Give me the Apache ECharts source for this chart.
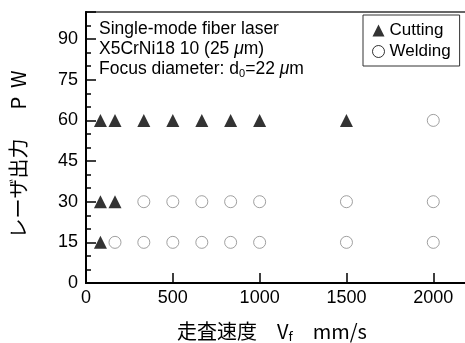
<!DOCTYPE html>
<html>
<head>
<meta charset="utf-8">
<script src="https://cdn.jsdelivr.net/npm/echarts@6/dist/echarts.min.js"></script>
<style>
  html, body { margin: 0; padding: 0; background: #fff; }
  #chart { width: 465px; height: 343px; }
</style>
</head>
<body>
<div id="chart"></div>
<script>
// Scan speeds (mm/s) at which each laser power level was tested
const cutting15 = [83];
const cutting30 = [83, 167];
const cutting60 = [83, 167, 333, 500, 667, 833, 1000, 1500];
const welding15 = [167, 333, 500, 667, 833, 1000, 1500, 2000];
const welding30 = [333, 500, 667, 833, 1000, 1500, 2000];
const welding60 = [2000];

const xTicks = [0, 500, 1000, 1500, 2000];
const yTicks = [0, 15, 30, 45, 60, 75, 90];

function pairs(speeds, power) {
  return speeds.map(v => [v, power]);
}

const cuttingData = [].concat(pairs(cutting15, 15), pairs(cutting30, 30), pairs(cutting60, 60));
const weldingData = [].concat(pairs(welding15, 15), pairs(welding30, 30), pairs(welding60, 60));

const latin = '"Liberation Sans", Arial, sans-serif';
const cjk = '"Noto Sans CJK JP", sans-serif';

const chart = echarts.init(document.getElementById('chart'), null, { renderer: 'canvas' });

chart.setOption({
  animation: false,
  backgroundColor: '#fff',
  grid: {
    left: 86, top: 12, width: 382, bottom: 60,
    outerBoundsMode: 'none',
    containLabel: false,
    show: true, borderColor: '#666', borderWidth: 2, backgroundColor: 'transparent'
  },
  legend: {
    orient: 'vertical',
    left: 363, top: 15,
    padding: [7, 9, 6, 9],
    itemGap: 4,
    itemWidth: 12, itemHeight: 12,
    borderColor: '#333', borderWidth: 1,
    textStyle: { fontFamily: latin, fontSize: 17, color: '#000' },
    data: [
      { name: 'Cutting', icon: 'triangle', itemStyle: { color: '#000' } },
      { name: 'Welding', icon: 'circle', itemStyle: { color: '#fff', borderColor: '#000', borderWidth: 1 } }
    ]
  },
  xAxis: {
    type: 'value', min: 0, max: 2200, interval: 500,
    splitLine: { show: false },
    axisLine: { lineStyle: { color: '#000', width: 2 } },
    axisTick: { inside: true, length: 10, lineStyle: { color: '#000', width: 1.5 } },
    axisLabel: {
      fontFamily: latin, fontSize: 18, color: '#000', margin: 6,
      formatter: v => (xTicks.indexOf(v) >= 0 ? String(v) : '')
    },
    name: '{t|走査速度　V}{s|f}{t|　mm/s}',
    nameLocation: 'middle', nameGap: 37,
    nameTextStyle: {
      padding: [0, 10, 0, 0],
      rich: {
        t: { fontFamily: cjk, fontSize: 20, color: '#000' },
        s: { fontFamily: cjk, fontSize: 13, color: '#000', padding: [10, 0, 0, 0] }
      }
    }
  },
  yAxis: [
    {
      type: 'value', min: 0, max: 100, interval: 15,
      splitLine: { show: false },
      axisLine: { lineStyle: { color: '#000', width: 2 } },
      axisTick: { inside: true, length: 10, lineStyle: { color: '#000', width: 1.5 } },
      axisLabel: {
        fontFamily: latin, fontSize: 18, color: '#000', margin: 8,
        formatter: v => (yTicks.indexOf(v) >= 0 ? String(v) : '')
      },
      name: 'レーザ出力　  P  W',
      nameLocation: 'middle', nameRotate: 90, nameGap: 58,
      nameTextStyle: { fontFamily: cjk, fontSize: 20, color: '#000', padding: [0, 14, 0, 0] }
    },
    {
      type: 'value', min: 0, max: 100, interval: 5, position: 'left',
      splitLine: { show: false },
      axisLine: { show: false },
      axisTick: { inside: true, length: 5, lineStyle: { color: '#000', width: 1.5 } },
      axisLabel: { show: false }
    }
  ],
  graphic: [{
    type: 'text',
    left: 99, top: 19,
    style: {
      text: 'Single-mode fiber laser\nX5CrNi18 10 (25 {mu|μ}m)\nFocus diameter: d{sub|0}=22 {mu|μ}m',
      font: '17.5px ' + latin,
      fill: '#000',
      lineHeight: 20,
      rich: {
        mu: { fontFamily: latin, fontSize: 17.5, fontStyle: 'italic', fill: '#000', lineHeight: 20 },
        sub: { fontFamily: latin, fontSize: 11, fill: '#000', lineHeight: 20, padding: [9, 0, 0, 0] }
      }
    }
  }],
  series: [
    {
      name: 'Cutting', type: 'scatter',
      symbol: 'triangle', symbolSize: 13,
      itemStyle: { color: '#000' },
      data: cuttingData
    },
    {
      name: 'Welding', type: 'scatter',
      symbol: 'circle', symbolSize: 12,
      itemStyle: { color: '#fff', borderColor: '#888', borderWidth: 1 },
      data: weldingData
    }
  ]
});
</script>
</body>
</html>
